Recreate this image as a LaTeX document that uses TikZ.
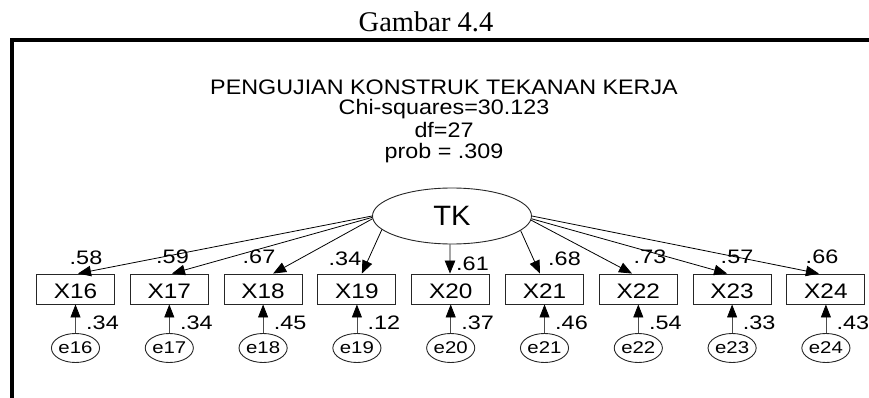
\documentclass[tikz,border=0pt]{standalone}
\usepackage{fontspec}
\setmainfont{Liberation Serif}
\newfontfamily\headfont[FakeStretch=1.11]{Liberation Sans}
\newfontfamily\boxfont[FakeStretch=1.16]{Liberation Sans}
\newfontfamily\numfont[FakeStretch=1.2]{Liberation Sans}
\newfontfamily\latentfont[FakeStretch=1.04]{Liberation Sans}
\usetikzlibrary{arrows.meta,shapes.geometric}

\begin{document}
\begin{tikzpicture}[x=1pt,y=-1pt,
  obs/.style={draw=black!85,line width=0.9pt,minimum width=78pt,minimum height=30pt,
    inner sep=0pt,text height=18pt,text depth=0pt,font=\boxfont\fontsize{21}{21}\selectfont},
  err/.style={ellipse,draw=black!85,line width=0.9pt,minimum width=45pt,minimum height=29pt,
    inner sep=0pt,font=\numfont\fontsize{17}{17}\selectfont},
  latent/.style={ellipse,draw=black!85,line width=0.9pt,minimum width=159pt,minimum height=56pt,
    inner sep=0pt,font=\latentfont\fontsize{28}{28}\selectfont},
  num/.style={inner sep=0pt,anchor=base,font=\numfont\fontsize{19.5}{19.5}\selectfont},
  head/.style={inner sep=0pt,anchor=base,font=\headfont\fontsize{21}{21}\selectfont},
  load/.style={line width=0.8pt,-{Triangle[length=13pt,width=10.5pt]}},
  errarrow/.style={line width=0.8pt,draw=black!70,-{Triangle[length=13pt,width=10pt,color=black]}}]

\useasboundingbox (0,0) rectangle (869,398);

% caption and frame
\node[inner sep=0pt,anchor=base,font=\fontsize{28.5}{28.5}\selectfont] (cap) at (426,31.5) {Gambar 4.4};
\draw[line width=4pt,line join=miter] (12,398) -- (12,40) -- (869,40);

% model heading
\node[head] (h1) at (444,95) {PENGUJIAN KONSTRUK TEKANAN KERJA};
\node[head] (h2) at (444,115) {Chi-squares=30.123};
\node[head] (h3) at (444,137.5) {df=27};
\node[head] (h4) at (444,159) {prob = .309};

% latent construct
\node[latent] (TK) at (452,216) {TK};

% indicators with their error terms
\foreach \i/\x/\r in {16/75.5/.34, 17/169.3/.34, 18/263.1/.45, 19/356.9/.12, 20/450.7/.37,
                      21/544.5/.46, 22/638.3/.54, 23/732.1/.33, 24/825.9/.43}{
  \node[obs] (X\i) at (\x,289) {X\i};
  \node[err] (e\i) at (\x,348) {e\i};
  \draw[errarrow] (e\i.north) -- (X\i.south);
  \node[num] (r\i) at (\x+27,329) {\r};
}

% factor loadings
\draw[load] (TK.180)   -- ([xshift=2.5pt]X16.north);
\draw[load] (TK.181)   -- ([xshift=2.7pt]X17.north);
\draw[load] (TK.182.5) -- ([xshift=10pt]X18.north);
\draw[load] (TK.191.5) -- ([xshift=5pt]X19.north);
\draw[load] (TK.266)   -- ([xshift=-0.7pt]X20.north);
\draw[load] (TK.348.5) -- ([xshift=-4.5pt]X21.north);
\draw[load] (TK.357)   -- ([xshift=-6.3pt]X22.north);
\draw[load] (TK.358.5) -- ([xshift=-5pt]X23.north);
\draw[load] (TK.0)     -- ([xshift=-7pt]X24.north);

\node[num] (l16) at (86,264) {.58};
\node[num] (l17) at (172.5,263) {.59};
\node[num] (l18) at (259,263) {.67};
\node[num] (l19) at (345,265) {.34};
\node[num] (l20) at (472.5,270) {.61};
\node[num] (l21) at (564.5,265) {.68};
\node[num] (l22) at (650,263) {.73};
\node[num] (l23) at (737,263) {.57};
\node[num] (l24) at (822,263) {.66};
\end{tikzpicture}
\end{document}
